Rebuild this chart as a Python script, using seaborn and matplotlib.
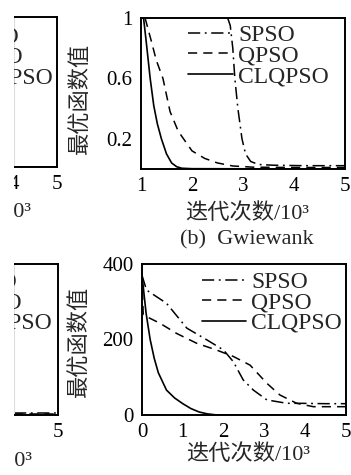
import matplotlib
matplotlib.use("Agg")
import matplotlib.pyplot as plt
from matplotlib.patches import Rectangle
import seaborn as sns
import pandas as pd

# ---------------- data ----------------
labels = ["SPSO", "QPSO", "CLQPSO"]

# (b) Gwiewank  (x in 10^3 iterations)
gw_spso_x = [2.70, 2.75, 2.80, 2.84, 2.90, 2.98, 3.05, 3.15, 3.30, 3.60, 4.20, 5.00]
gw_spso_y = [1.00, 0.95, 0.80, 0.60, 0.40, 0.20, 0.10, 0.05, 0.03, 0.025, 0.022, 0.022]
gw_qpso_x = [1.08, 1.20, 1.30, 1.43, 1.57, 1.73, 2.00, 2.25, 2.50, 2.80, 3.20, 4.00, 5.00]
gw_qpso_y = [1.00, 0.85, 0.72, 0.60, 0.38, 0.25, 0.12, 0.07, 0.04, 0.02, 0.012, 0.01, 0.01]
gw_clq_x = [1.05, 1.10, 1.18, 1.25, 1.32, 1.40, 1.50, 1.60, 1.70, 1.80, 2.00, 5.00]
gw_clq_y = [1.00, 0.85, 0.60, 0.42, 0.30, 0.20, 0.10, 0.04, 0.015, 0.005, 0.002, 0.0]

# second row (right)
r2_spso_x = [0.00, 0.11, 0.60, 1.10, 1.59, 2.00, 2.24, 2.48, 2.73, 3.06, 3.55, 3.87, 4.50, 5.00]
r2_spso_y = [370, 331, 296, 230, 199, 172, 141, 93, 66, 40, 31, 31, 30, 30]
r2_qpso_x = [0.00, 0.03, 0.44, 0.85, 1.34, 1.83, 2.24, 2.65, 3.06, 3.38, 3.79, 4.20, 5.00]
r2_qpso_y = [370, 265, 243, 216, 190, 172, 155, 132, 84, 53, 31, 22, 22]
r2_clq_x = [0.00, 0.05, 0.10, 0.20, 0.30, 0.40, 0.60, 0.80, 1.00, 1.20, 1.40, 1.60, 1.80, 2.00, 5.00]
r2_clq_y = [370, 320, 270, 200, 150, 112, 66, 45, 30, 17, 8, 3, 0.5, 0.0, 0.0]

# partially visible left panels
left_x = [4.0, 5.0]
tl_y = [0.0, 0.0]
bl_spso_y = [0.6, 0.6]
bl_qpso_y = [0.3, 0.3]
bl_clq_y = [0.0, 0.0]

xlabel = "迭代次数/10³"
ylabel = "最优函数值"
caption = "(b)  Gwiewank"

# ---------------- style ----------------
sns.set_style("white")
plt.rcParams["font.family"] = ["Liberation Serif", "Noto Sans CJK SC"]
plt.rcParams["axes.unicode_minus"] = False

styles = {
    "SPSO": dict(linestyle=(0, (8, 3, 1.2, 3)), linewidth=1.1),
    "QPSO": dict(linestyle=(0, (6, 4)), linewidth=1.1),
    "CLQPSO": dict(linestyle="-", linewidth=1.2),
}

FS_TICK = 15
FS_LEG = 17
FS_LAB = 16

W, H = 351, 475
fig = plt.figure(figsize=(W / 100, H / 100), dpi=100)


def ax_px(x0, y0, x1, y1):
    return fig.add_axes([x0 / W, 1 - y1 / H, (x1 - x0) / W, (y1 - y0) / H])


def draw(ax, series):
    for name, xs, ys in series:
        df = pd.DataFrame({"x": xs, "y": ys})
        sns.lineplot(data=df, x="x", y="y", ax=ax, color="black", sort=False,
                     estimator=None, label=name, **styles[name])
    ax.set_ylabel("")


def style_ax(ax, left_gray=False):
    for s in ax.spines.values():
        s.set_color("black")
        s.set_linewidth(1.4)
    if left_gray:
        ax.spines["left"].set_color("#dddddd")
        ax.spines["left"].set_linewidth(0.8)
    ax.tick_params(direction="in", length=4, width=1.0, labelsize=FS_TICK, pad=6,
                   color="black", labelcolor="black")


def legend(ax, bx, by):
    ax.legend(loc="upper right", bbox_to_anchor=(bx, by), frameon=False,
              fontsize=FS_LEG, handlelength=1.9, handletextpad=0.2,
              labelspacing=-0.05, borderpad=0, borderaxespad=0)


# top-right: Gwiewank
ax1 = ax_px(141, 18, 345, 169)
draw(ax1, [("SPSO", gw_spso_x, gw_spso_y), ("QPSO", gw_qpso_x, gw_qpso_y),
           ("CLQPSO", gw_clq_x, gw_clq_y)])
ax1.set_xlim(1, 5)
ax1.set_ylim(0, 1)
ax1.set_xticks([1, 2, 3, 4, 5])
ax1.set_xticklabels(["1", "2", "3", "4", "5"])
ax1.set_yticks([0.2, 0.6, 1.0])
ax1.set_yticklabels(["0.2", "0.6", "1"])
style_ax(ax1)
legend(ax1, 0.92, 0.955)
ax1.set_xlabel(xlabel, fontsize=FS_LAB)
ax1.xaxis.set_label_coords(0.52, -0.295)
ax1.xaxis.label.set_va("center")
ax1.set_ylabel(ylabel, fontsize=FS_LAB)
ax1.yaxis.set_label_coords(-0.295, 0.47)
ax1.yaxis.label.set_va("center")

# bottom-right
ax2 = ax_px(142, 264, 346, 415)
draw(ax2, [("SPSO", r2_spso_x, r2_spso_y), ("QPSO", r2_qpso_x, r2_qpso_y),
           ("CLQPSO", r2_clq_x, r2_clq_y)])
ax2.set_xlim(0, 5)
ax2.set_ylim(0, 400)
ax2.set_xticks([0, 1, 2, 3, 4, 5])
ax2.set_xticklabels(["0", "1", "2", "3", "4", "5"])
ax2.set_yticks([0, 200, 400])
ax2.set_yticklabels(["0", "200", "400"])
style_ax(ax2)
legend(ax2, 0.98, 0.95)
ax2.set_xlabel(xlabel, fontsize=FS_LAB)
ax2.xaxis.set_label_coords(0.52, -0.265)
ax2.xaxis.label.set_va("center")
ax2.set_ylabel(ylabel, fontsize=FS_LAB)
ax2.yaxis.set_label_coords(-0.305, 0.49)
ax2.yaxis.label.set_va("center")

# top-left (partially visible)
ax3 = ax_px(14, 17, 57, 167)
draw(ax3, [("SPSO", left_x, tl_y), ("QPSO", left_x, tl_y), ("CLQPSO", left_x, tl_y)])
ax3.set_xlim(4, 5)
ax3.set_ylim(0, 1)
ax3.set_xticks([4, 5])
ax3.set_xticklabels(["4", "5"])
ax3.set_yticks([])
style_ax(ax3, left_gray=True)
legend(ax3, 0.907, 0.94)
ax3.set_xlabel(xlabel, fontsize=FS_LAB)
ax3.xaxis.set_label_coords(0.39, -0.30)
ax3.xaxis.label.set_ha("right")
ax3.xaxis.label.set_va("center")

# bottom-left (partially visible)
ax4 = ax_px(14, 264, 58, 415)
draw(ax4, [("SPSO", left_x, bl_spso_y), ("QPSO", left_x, bl_qpso_y),
           ("CLQPSO", left_x, bl_clq_y)])
ax4.set_xlim(4, 5)
ax4.set_ylim(0, 60)
ax4.set_xticks([5])
ax4.set_xticklabels(["5"])
ax4.set_yticks([])
style_ax(ax4, left_gray=True)
legend(ax4, 0.85, 0.95)
ax4.set_xlabel(xlabel, fontsize=FS_LAB)
ax4.xaxis.set_label_coords(0.41, -0.30)
ax4.xaxis.label.set_ha("right")
ax4.xaxis.label.set_va("center")

fig.text(247 / W, 1 - 240 / H, caption, fontsize=FS_LAB, ha="center", va="center")

# the reference is cropped: a blank strip along its left edge
fig.add_artist(Rectangle((0, 0), 13.5 / W, 1, transform=fig.transFigure,
                         facecolor="white", edgecolor="none", zorder=100))

fig.savefig("out.png", dpi=100)
